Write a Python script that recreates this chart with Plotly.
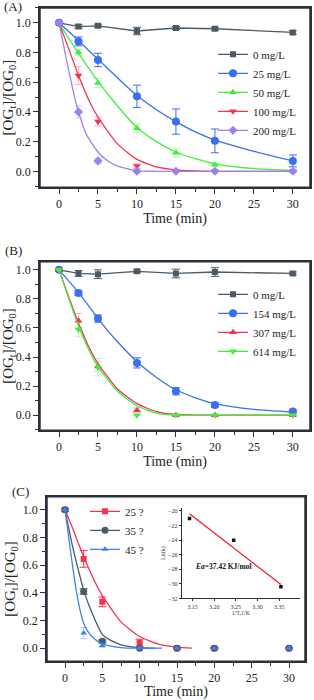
import plotly.graph_objects as go

W, H = 314, 700
FONT = "Liberation Serif"

# ---------------- data ----------------
t = [0, 2.5, 5, 10, 15, 20, 30]

# Panel A
a_labels = ["0 mg/L", "25 mg/L", "50 mg/L", "100 mg/L", "200 mg/L"]
a0 = [1.0, 0.975, 0.98, 0.945, 0.965, 0.96, 0.935]
a0_err = [0.008, 0.012, 0.01, 0.025, 0.01, 0.01, 0.012]
a25 = [1.0, 0.875, 0.75, 0.505, 0.335, 0.205, 0.07]
a25_err = [0.005, 0.03, 0.045, 0.075, 0.085, 0.08, 0.04]
a50 = [1.0, 0.80, 0.595, 0.29, 0.125, 0.045, 0.0]
a50_err = [0.005, 0.02, 0.03, 0.03, 0.03, 0.01, 0.005]
a100 = [1.0, 0.645, 0.335, 0.035, 0.0, 0.0, 0.0]
a100_err = [0.005, 0.06, 0.03, 0.015, 0.0, 0.0, 0.0]
a200 = [1.0, 0.40, 0.07, 0.0, 0.0, 0.0, 0.0]
a200_err = [0.005, 0.04, 0.015, 0.0, 0.0, 0.0, 0.0]

a25_fit_t = [0, 2.5, 5, 7.5, 10, 12.5, 15, 17.5, 20, 25, 30]
a25_fit = [1.0, 0.88, 0.755, 0.63, 0.51, 0.415, 0.335, 0.265, 0.21, 0.135, 0.07]
a50_fit_t = [0, 1, 2.5, 4, 5, 7.5, 10, 12.5, 15, 17.5, 20, 25, 30]
a50_fit = [1.0, 0.915, 0.795, 0.68, 0.605, 0.44, 0.295, 0.2, 0.13, 0.085, 0.05, 0.018, 0.005]
a100_fit_t = [0, 1, 2.5, 4, 5, 7.5, 10, 12.5, 15, 20, 30]
a100_fit = [1.0, 0.86, 0.645, 0.46, 0.365, 0.185, 0.08, 0.03, 0.01, 0.0, 0.0]
a200_fit_t = [0, 1, 2, 2.5, 3.5, 5, 6, 7.5, 10, 12.5, 30]
a200_fit = [1.0, 0.74, 0.5, 0.40, 0.25, 0.13, 0.08, 0.035, 0.005, 0.0, 0.0]

# Panel B
b_labels = ["0 mg/L", "154 mg/L", "307 mg/L", "614 mg/L"]
b0 = [1.0, 0.975, 0.97, 0.99, 0.975, 0.985, 0.975]
b0_err = [0.01, 0.02, 0.03, 0.01, 0.03, 0.03, 0.01]
b154 = [1.0, 0.84, 0.665, 0.36, 0.165, 0.07, 0.025]
b154_err = [0.005, 0.015, 0.025, 0.035, 0.025, 0.015, 0.01]
b307 = [1.0, 0.65, 0.335, 0.035, 0.0, 0.0, 0.0]
b307_err = [0.005, 0.05, 0.03, 0.015, 0.0, 0.0, 0.0]
b614 = [1.0, 0.59, 0.33, 0.0, 0.0, 0.0, 0.0]
b614_err = [0.005, 0.05, 0.06, 0.0, 0.0, 0.0, 0.0]

b154_fit_t = [0, 2.5, 5, 7.5, 10, 12.5, 15, 17.5, 20, 25, 30]
b154_fit = [1.0, 0.845, 0.665, 0.505, 0.368, 0.26, 0.175, 0.12, 0.08, 0.04, 0.022]
b307_fit_t = [0, 1, 2.5, 4, 5, 7.5, 10, 12.5, 15, 20, 30]
b307_fit = [1.0, 0.85, 0.635, 0.45, 0.355, 0.18, 0.08, 0.025, 0.005, 0.0, 0.0]
b614_fit_t = [0, 1, 2.5, 4, 5, 7.5, 10, 12.5, 15, 20, 30]
b614_fit = [1.0, 0.84, 0.615, 0.43, 0.335, 0.165, 0.065, 0.015, 0.0, 0.0, 0.0]

# Panel C
c_labels = ["25 ?", "35 ?", "45 ?"]
c25 = [1.0, 0.645, 0.335, 0.04, 0.0, 0.0, 0.0]
c25_err = [0.01, 0.06, 0.035, 0.025, 0.008, 0.005, 0.005]
c35 = [1.0, 0.41, 0.05, 0.0, 0.0, 0.0, 0.0]
c35_err = [0.01, 0.02, 0.01, 0.0, 0.0, 0.0, 0.0]
c45 = [1.0, 0.11, 0.02, 0.0, 0.0, 0.0, 0.0]
c45_err = [0.005, 0.04, 0.015, 0.0, 0.0, 0.0, 0.0]

c25_fit_t = [0, 1, 2.5, 4, 5, 7.5, 10, 12.5, 15, 17]
c25_fit = [1.0, 0.87, 0.66, 0.48, 0.38, 0.19, 0.085, 0.03, 0.008, 0.0]
c35_fit_t = [0, 1, 2, 2.5, 3.5, 5, 6, 7.5, 10, 12]
c35_fit = [1.0, 0.74, 0.52, 0.42, 0.27, 0.1, 0.06, 0.025, 0.004, 0.0]
c45_fit_t = [0, 0.5, 1, 1.5, 2, 2.5, 3, 4, 5, 7.5, 10, 13]
c45_fit = [1.0, 0.8, 0.6, 0.42, 0.28, 0.18, 0.125, 0.065, 0.032, 0.005, 0.0, 0.0]

# Inset (Arrhenius)
inv_T = [3.143, 3.245, 3.354]
ln_k = [-21.05, -24.05, -30.4]
fit_inv_T = [3.143, 3.354]
fit_ln_k = [-20.4, -30.1]

# axis ranges
xr_ab = [-2.44, 32.2]
yr_a = [-0.107, 1.10]
yr_b = [-0.1027, 1.0548]
xr_c = [-2.41, 32.14]
yr_c = [-0.0935, 1.0935]

# ---------------- styling ----------------
GRAY = "#4b5a67"
BLUE = "#3a6ff0"
GREEN = "#3ef03e"
RED = "#f5334f"
PURPLE = "#9b80f2"
BLUE_C = "#3f80f2"
LINE = "#2b3038"


def pale(hex_color, a=0.35):
    h = hex_color.lstrip("#")
    r, g, b = int(h[0:2], 16), int(h[2:4], 16), int(h[4:6], 16)
    return f"rgba({r},{g},{b},{a})"


fig = go.Figure()


def add_series(xa, ya, leg, name, y, err, color, symbol, msize, fit_t=None, fit_y=None,
               err_color=None, connect=False):
    ec = err_color or color
    if fit_t is not None:
        fig.add_trace(go.Scatter(x=fit_t, y=fit_y, mode="lines", xaxis=xa, yaxis=ya,
                                 line=dict(color=color, width=1.3, shape="spline", smoothing=0.6),
                                 showlegend=False, hoverinfo="skip"))
    fig.add_trace(go.Scatter(
        x=t, y=y, mode="lines+markers" if connect else "markers", xaxis=xa, yaxis=ya,
        line=dict(color=color, width=1.3),
        marker=dict(symbol=symbol, size=msize, color=color, line=dict(width=0)),
        error_y=dict(type="data", array=err, visible=True, color=ec, thickness=1, width=4),
        showlegend=connect, name=name, legend=leg))
    if not connect:
        fig.add_trace(go.Scatter(x=[None], y=[None], mode="lines+markers", xaxis=xa, yaxis=ya,
                                 line=dict(color=color, width=1.3),
                                 marker=dict(symbol=symbol, size=msize, color=color),
                                 name=name, legend=leg, showlegend=True))


def add_frame(xa, ya, xr, yr):
    # box outline following the axis ranges
    fig.add_trace(go.Scatter(x=[xr[0], xr[1], xr[1], xr[0], xr[0]],
                             y=[yr[0], yr[0], yr[1], yr[1], yr[0]],
                             mode="lines", xaxis=xa, yaxis=ya, cliponaxis=False,
                             line=dict(color=LINE, width=1.5), showlegend=False, hoverinfo="skip"))


add_frame("x", "y", xr_ab, yr_a)
add_frame("x2", "y2", xr_ab, yr_b)
add_frame("x3", "y3", xr_c, yr_c)

# Panel A
add_series("x", "y", "legend", a_labels[0], a0, a0_err, GRAY, "square", 6, connect=True)
add_series("x", "y", "legend", a_labels[1], a25, a25_err, BLUE, "circle", 8, a25_fit_t, a25_fit)
add_series("x", "y", "legend", a_labels[2], a50, a50_err, GREEN, "triangle-up", 7, a50_fit_t, a50_fit,
           err_color=pale(GREEN))
add_series("x", "y", "legend", a_labels[3], a100, a100_err, RED, "triangle-down", 7, a100_fit_t, a100_fit,
           err_color=pale(RED))
add_series("x", "y", "legend", a_labels[4], a200, a200_err, PURPLE, "diamond", 7, a200_fit_t, a200_fit,
           err_color=pale(PURPLE))

# Panel B
add_series("x2", "y2", "legend2", b_labels[0], b0, b0_err, GRAY, "square", 6, connect=True)
add_series("x2", "y2", "legend2", b_labels[1], b154, b154_err, BLUE, "circle", 8, b154_fit_t, b154_fit)
add_series("x2", "y2", "legend2", b_labels[2], b307, b307_err, RED, "triangle-up", 7, b307_fit_t, b307_fit,
           err_color=pale(RED))
add_series("x2", "y2", "legend2", b_labels[3], b614, b614_err, GREEN, "triangle-down", 7, b614_fit_t, b614_fit,
           err_color=pale(GREEN))

# Panel C
add_series("x3", "y3", "legend3", c_labels[0], c25, c25_err, RED, "square", 6, c25_fit_t, c25_fit)
add_series("x3", "y3", "legend3", c_labels[1], c35, c35_err, GRAY, "circle", 7, c35_fit_t, c35_fit)
add_series("x3", "y3", "legend3", c_labels[2], c45, c45_err, BLUE_C, "triangle-up", 6, c45_fit_t, c45_fit,
           err_color=pale(BLUE_C))

# Inset
fig.add_trace(go.Scatter(x=fit_inv_T, y=fit_ln_k, mode="lines", xaxis="x4", yaxis="y4",
                         line=dict(color="#ee1c24", width=1.2), showlegend=False))
fig.add_trace(go.Scatter(x=inv_T, y=ln_k, mode="markers", xaxis="x4", yaxis="y4",
                         marker=dict(symbol="square", size=3.5, color="#111"), showlegend=False))


def px(v):
    return v / W


def py(v):
    return 1 - v / H


AX = dict(showline=True, linecolor=LINE, linewidth=1.5, mirror=True, ticks="outside",
          ticklen=5, tickwidth=1.3, tickcolor=LINE, showgrid=False, zeroline=False,
          tickfont=dict(family=FONT, size=12, color="#222"))
MINOR_X = dict(ticks="outside", ticklen=3, dtick=2.5, tickcolor=LINE, tickwidth=1.2, showgrid=False)
MINOR_Y = dict(ticks="outside", ticklen=3, dtick=0.1, tickcolor=LINE, tickwidth=1.2, showgrid=False)
XT = dict(text="Time (min)", font=dict(family=FONT, size=14, color="#222"), standoff=0)
YT = dict(text="[OG<sub>t</sub>]/[OG<sub>0</sub>]", font=dict(family=FONT, size=15, color="#222"),
          standoff=4)

fig.update_layout(
    xaxis=dict(AX, domain=[px(40), px(310)], range=xr_ab, anchor="y", tick0=0, dtick=5,
               minor=MINOR_X, title=XT),
    yaxis=dict(AX, domain=[py(188), py(8)], range=yr_a, anchor="x", tick0=0, dtick=0.2,
               tickformat=".1f", minor=MINOR_Y, title=YT),
    xaxis2=dict(AX, domain=[px(40), px(310)], range=xr_ab, anchor="y2", tick0=0, dtick=5,
                minor=MINOR_X, title=XT),
    yaxis2=dict(AX, domain=[py(432), py(263)], range=yr_b, anchor="x2", tick0=0, dtick=0.2,
                tickformat=".1f", minor=MINOR_Y, title=YT),
    xaxis3=dict(AX, domain=[px(47), px(305)], range=xr_c, anchor="y3", tick0=0, dtick=5,
                minor=MINOR_X, title=XT),
    yaxis3=dict(AX, domain=[py(664), py(499)], range=yr_c, anchor="x3", tick0=0, dtick=0.2,
                tickformat=".1f", minor=MINOR_Y, title=YT),
    xaxis4=dict(domain=[px(181.7), px(300)], range=[3.125, 3.398], anchor="y4", tick0=3.15, dtick=0.05,
                tickformat=".2f", showline=True, linecolor=LINE, linewidth=1, mirror=False,
                ticks="outside", ticklen=2, tickwidth=0.8, tickcolor=LINE, showgrid=False, zeroline=False,
                tickfont=dict(family=FONT, size=6, color="#333"),
                title=dict(text="1/T,1/K", font=dict(family=FONT, size=6, color="#333"), standoff=0)),
    yaxis4=dict(domain=[py(601), py(510)], range=[-32, -19.59], anchor="x4", tick0=-32, dtick=2,
                showline=True, linecolor=LINE, linewidth=1, mirror=False,
                ticks="outside", ticklen=2, tickwidth=0.8, tickcolor=LINE, showgrid=False, zeroline=False,
                tickfont=dict(family=FONT, size=6, color="#333"),
                title=dict(text="Ln(k)", font=dict(family=FONT, size=6, color="#333"), standoff=1)),
)

LEG = dict(bgcolor="rgba(0,0,0,0)", font=dict(family=FONT, size=11, color="#222"),
           xanchor="left", yanchor="top", tracegroupgap=0, itemwidth=30, borderwidth=0)
fig.update_layout(
    legend=dict(LEG, x=px(213), y=py(40)),
    legend2=dict(LEG, x=px(213), y=py(281)),
    legend3=dict(LEG, x=px(85), y=py(499)),
)

fig.add_annotation(xref="x4", yref="y4", x=3.151, y=-27.64, xanchor="left", yanchor="middle",
                   text="<b><i>Ea</i>=37.42 KJ/mol</b>", showarrow=False,
                   font=dict(family=FONT, size=7.5, color="#111"))
for lab, xx, yy in [("(A)", 2, 7), ("(B)", 3, 252), ("(C)", 10, 494)]:
    fig.add_annotation(xref="paper", yref="paper", x=px(xx), y=py(yy), xanchor="left", yanchor="middle",
                       text=lab, showarrow=False, font=dict(family=FONT, size=13, color="#222"))

fig.update_layout(width=W, height=H, margin=dict(l=0, r=0, t=0, b=0), paper_bgcolor="white",
                  plot_bgcolor="white", font=dict(family=FONT))

fig.write_html("out.html", config={"displayModeBar": False},
               post_script="document.body.style.margin='0';")
